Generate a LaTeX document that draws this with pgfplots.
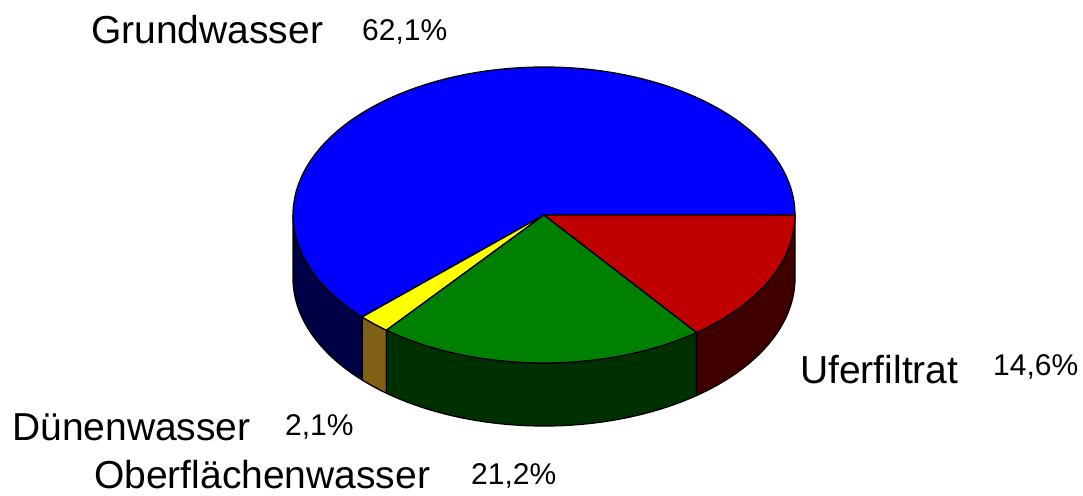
\documentclass[border=0pt]{standalone}
\usepackage{pgfplots}
\pgfplotsset{compat=1.18}
\usepackage{pgfplotstable}
\usepackage{fontspec}
\setmainfont{Liberation Sans}
\definecolor{cBlue}{RGB}{0,0,255}
\definecolor{cYellow}{RGB}{255,255,0}
\definecolor{cGreen}{RGB}{0,128,0}
\definecolor{cRed}{RGB}{192,0,0}
\definecolor{sBlue}{RGB}{0,0,70}
\definecolor{sYellow}{RGB}{128,96,20}
\definecolor{sGreen}{RGB}{0,48,0}
\definecolor{sRed}{RGB}{64,0,0}
\pgfplotstableread{
name value
Grundwasser 62.1
Duenenwasser 2.1
Oberflaechenwasser 21.2
Uferfiltrat 14.6
}\piedata
\newcommand\namefont{\fontsize{39bp}{40bp}\selectfont}
\newcommand\pctfont{\fontsize{30bp}{31bp}\selectfont}
\begin{document}
\begin{tikzpicture}
\pgfplotstablegetelem{0}{value}\of\piedata \let\vA\pgfplotsretval
\pgfplotstablegetelem{1}{value}\of\piedata \let\vB\pgfplotsretval
\pgfplotstablegetelem{2}{value}\of\piedata \let\vC\pgfplotsretval
\pgfplotstablegetelem{3}{value}\of\piedata \let\vD\pgfplotsretval
\pgfmathsetmacro\aB{3.6*\vA}
\pgfmathsetmacro\aC{\aB+3.6*\vB}
\pgfmathsetmacro\aD{\aC+3.6*\vC}
\def\cx{544}\def\cy{280}\def\rx{251}\def\ry{148}\def\dd{63}
\begin{axis}[
  scale only axis, width=1083bp, height=495bp,
  xmin=0, xmax=1083, ymin=0, ymax=495,
  hide axis, clip=false,
  every axis plot/.append style={draw=black, line width=1.3bp, line join=round, no markers, samples=60, variable=\t}
]
\path (axis cs:0,0) rectangle (axis cs:1083,495);
% sides (front half only)
\addplot[fill=sBlue, domain=180:\aB] ({\cx+\rx*cos(\t)},{\cy+\ry*sin(\t)})
  -- plot[domain=\aB:180, samples=40, variable=\u] (axis cs:{\cx+\rx*cos(\u)},{\cy-\dd+\ry*sin(\u)}) -- cycle;
\addplot[fill=sYellow, domain=\aB:\aC, samples=10] ({\cx+\rx*cos(\t)},{\cy+\ry*sin(\t)})
  -- plot[domain=\aC:\aB, samples=10, variable=\u] (axis cs:{\cx+\rx*cos(\u)},{\cy-\dd+\ry*sin(\u)}) -- cycle;
\addplot[fill=sGreen, domain=\aC:\aD] ({\cx+\rx*cos(\t)},{\cy+\ry*sin(\t)})
  -- plot[domain=\aD:\aC, samples=40, variable=\u] (axis cs:{\cx+\rx*cos(\u)},{\cy-\dd+\ry*sin(\u)}) -- cycle;
\addplot[fill=sRed, domain=\aD:360] ({\cx+\rx*cos(\t)},{\cy+\ry*sin(\t)})
  -- plot[domain=360:\aD, samples=40, variable=\u] (axis cs:{\cx+\rx*cos(\u)},{\cy-\dd+\ry*sin(\u)}) -- cycle;
% top faces
\addplot[fill=cBlue, domain=0:\aB, samples=90] ({\cx+\rx*cos(\t)},{\cy+\ry*sin(\t)}) -- (axis cs:\cx,\cy) -- cycle;
\addplot[fill=cYellow, domain=\aB:\aC, samples=10] ({\cx+\rx*cos(\t)},{\cy+\ry*sin(\t)}) -- (axis cs:\cx,\cy) -- cycle;
\addplot[fill=cGreen, domain=\aC:\aD] ({\cx+\rx*cos(\t)},{\cy+\ry*sin(\t)}) -- (axis cs:\cx,\cy) -- cycle;
\addplot[fill=cRed, domain=\aD:360] ({\cx+\rx*cos(\t)},{\cy+\ry*sin(\t)}) -- (axis cs:\cx,\cy) -- cycle;
% labels
\node[anchor=base west, inner sep=0pt, font=\namefont] at (axis cs:91,451) {Grundwasser};
\node[anchor=base west, inner sep=0pt, font=\pctfont] at (axis cs:362,454) {62,1\%};
\node[anchor=base west, inner sep=0pt, font=\namefont] at (axis cs:800,112) {Uferfiltrat};
\node[anchor=base west, inner sep=0pt, font=\pctfont] at (axis cs:993,120) {14,6\%};
\node[anchor=base west, inner sep=0pt, font=\namefont] at (axis cs:12,55) {Dünenwasser};
\node[anchor=base west, inner sep=0pt, font=\pctfont] at (axis cs:285,60) {2,1\%};
\node[anchor=base west, inner sep=0pt, font=\namefont] at (axis cs:94,7) {Oberflächenwasser};
\node[anchor=base west, inner sep=0pt, font=\pctfont] at (axis cs:471,11) {21,2\%};
\end{axis}
\end{tikzpicture}
\end{document}
